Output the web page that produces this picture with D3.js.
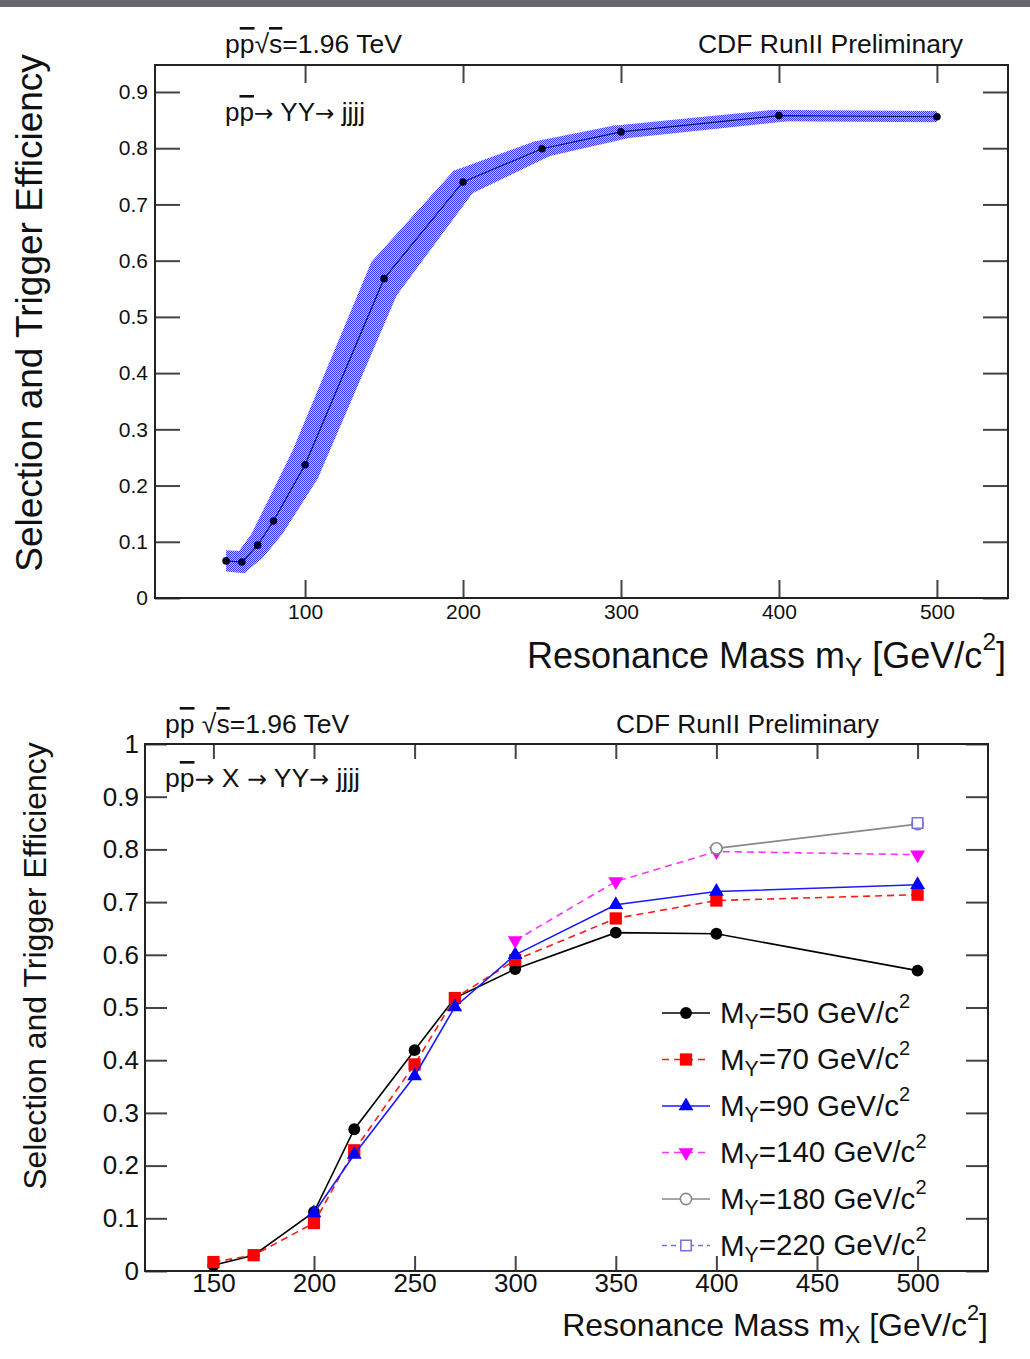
<!DOCTYPE html>
<html>
<head>
<meta charset="utf-8">
<script src="https://cdn.jsdelivr.net/npm/d3@7"></script>
<style>
  body { margin: 0; background: #fff; }
  text { font-family: "Liberation Sans", Arial, sans-serif; fill: #111; }
</style>
</head>
<body>
<div id="chart"></div>
<script>
// dados do painel de cima (pp -> YY -> jjjj)
const massTop = [50, 60, 70, 80, 100, 150, 200, 250, 300, 400, 500];
const effTop = [0.066, 0.064, 0.094, 0.137, 0.237, 0.568, 0.740, 0.799, 0.829, 0.858, 0.856];
const effErrTop = [0.019, 0.019, 0.02, 0.022, 0.025, 0.03, 0.02, 0.013, 0.011, 0.01, 0.01];
const massErrTop = [0, 2, 4, 6, 8, 8, 6, 5, 5, 5, 0];
const xTicksTop = [100, 200, 300, 400, 500];
const yTicksTop = [0, 0.1, 0.2, 0.3, 0.4, 0.5, 0.6, 0.7, 0.8, 0.9];

// dados do painel de baixo (pp -> X -> YY -> jjjj)
const massBot = [150, 170, 200, 220, 250, 270, 300, 350, 400, 500];
const eff50 = [0.011, 0.030, 0.112, 0.269, 0.419, 0.518, 0.573, 0.642, 0.640, 0.570];
const eff70 = [0.017, 0.030, 0.091, 0.229, 0.392, 0.518, 0.590, 0.669, 0.703, 0.714];
const mass90 = [200, 220, 250, 270, 300, 350, 400, 500];
const eff90 = [0.110, 0.221, 0.370, 0.501, 0.600, 0.695, 0.720, 0.733];
const mass140 = [300, 350, 400, 500];
const eff140 = [0.627, 0.739, 0.796, 0.790];
const mass180 = [400, 500];
const eff180 = [0.802, 0.848];
const mass220 = [500];
const eff220 = [0.850];
const legendMasses = ["50", "70", "90", "140", "180", "220"];
const xTicksBot = [150, 200, 250, 300, 350, 400, 450, 500];
const yTicksBot = [0, 0.1, 0.2, 0.3, 0.4, 0.5, 0.6, 0.7, 0.8, 0.9, 1];

const W = 1030, H = 1359;
const svg = d3.select("#chart").append("svg").attr("width", W).attr("height", H);

// padrão pontilhado da banda azul
const defs = svg.append("defs");
const pat = defs.append("pattern").attr("id", "band")
    .attr("width", 2).attr("height", 2).attr("patternUnits", "userSpaceOnUse");
pat.append("rect").attr("width", 2).attr("height", 2).attr("fill", "#c2c2ff");
pat.append("rect").attr("width", 1).attr("height", 1).attr("fill", "#3434ff");
pat.append("rect").attr("x", 1).attr("y", 1).attr("width", 1).attr("height", 1).attr("fill", "#3434ff");

// barra cinza no topo
svg.append("rect").attr("width", W).attr("height", 7).attr("fill", "#68686c");

// texto com sobrescrito / subscrito / barra / setas
function richText(sel, parts) {
    parts.forEach(p => {
        const t = sel.append("tspan").text(p.t);
        if (p.over) t.style("text-decoration", "overline");
        if (p.arrow) t.style("font-family", "'DejaVu Sans', sans-serif").attr("font-size", "0.9em");
        if (p.sub) t.attr("font-size", "0.72em").attr("dy", "0.3em");
        if (p.sup) t.attr("font-size", "0.68em").attr("dy", "-0.72em");
        if (p.back) t.attr("dy", p.back);
    });
    return sel;
}

function axes(g, x, y, xt, yt, o) {
    const [x0, x1] = x.range();
    const [y0, y1] = y.range();
    g.append("g").attr("transform", `translate(${x0},0)`)
        .call(d3.axisLeft(y).tickValues(yt).tickSize(-o.yTick).tickPadding(o.padY).tickFormat(d3.format("~g")));
    g.append("g").attr("transform", `translate(${x1},0)`)
        .call(d3.axisRight(y).tickValues(yt).tickSize(-o.yTick).tickFormat(""));
    g.append("g").attr("transform", `translate(0,${y0})`)
        .call(d3.axisBottom(x).tickValues(xt).tickSize(-o.xTick).tickPadding(o.padX).tickFormat(d3.format("d")));
    g.append("g").attr("transform", `translate(0,${y1})`)
        .call(d3.axisTop(x).tickValues(xt).tickSize(-o.xTick).tickFormat(""));
    g.selectAll(".domain").remove();
    g.selectAll(".tick line").attr("stroke", "#444").attr("stroke-width", 2);
    g.selectAll(".tick text").attr("font-size", o.font).attr("fill", "#111")
        .style("font-family", "'Liberation Sans', Arial, sans-serif");
    g.append("rect").attr("x", x0).attr("y", y1).attr("width", x1 - x0).attr("height", y0 - y1)
        .attr("fill", "none").attr("stroke", "#222").attr("stroke-width", 2);
}

// ---------- painel de cima ----------
const xTop = d3.scaleLinear().domain([5, 545]).range([155, 1008]);
const yTop = d3.scaleLinear().domain([0, 0.948]).range([598, 65]);
const gTop = svg.append("g");

axes(gTop, xTop, yTop, xTicksTop, yTicksTop, { yTick: 25, xTick: 18, padY: 7, padX: 6, font: 21 });

// banda de erro: envoltória das caixas de pontos consecutivos
const topPts = massTop.map((m, i) => ({ m, e: effTop[i], de: effErrTop[i], dm: massErrTop[i] }));
const corners = p => [
    [xTop(p.m - p.dm), yTop(p.e - p.de)], [xTop(p.m + p.dm), yTop(p.e - p.de)],
    [xTop(p.m + p.dm), yTop(p.e + p.de)], [xTop(p.m - p.dm), yTop(p.e + p.de)]
];
d3.pairs(topPts).forEach(([a, b]) => {
    const hull = d3.polygonHull(corners(a).concat(corners(b)));
    gTop.append("path").attr("d", "M" + hull.join("L") + "Z").attr("fill", "url(#band)");
});

gTop.append("path").datum(topPts)
    .attr("fill", "none").attr("stroke", "#15153a").attr("stroke-width", 1.2)
    .attr("d", d3.line().x(d => xTop(d.m)).y(d => yTop(d.e)));
gTop.selectAll(".pt").data(topPts).enter().append("circle")
    .attr("cx", d => xTop(d.m)).attr("cy", d => yTop(d.e)).attr("r", 3.8).attr("fill", "#000022");

richText(gTop.append("text").attr("x", 225).attr("y", 53).attr("font-size", 26.5),
    [{ t: "p" }, { t: "p", over: true }, { t: "√" }, { t: "s", over: true }, { t: "=1.96 TeV" }]);
gTop.append("text").attr("x", 963).attr("y", 53).attr("font-size", 26.5)
    .attr("text-anchor", "end").text("CDF RunII Preliminary");
richText(gTop.append("text").attr("x", 225).attr("y", 121).attr("font-size", 26),
    [{ t: "p" }, { t: "p", over: true }, { t: "→", arrow: true }, { t: " YY" }, { t: "→", arrow: true }, { t: " jjjj" }]);

richText(gTop.append("text").attr("x", 1006).attr("y", 668).attr("font-size", 36).attr("text-anchor", "end"),
    [{ t: "Resonance Mass m" }, { t: "Y", sub: true }, { t: " [GeV/c", back: "-0.22em" }, { t: "2", sup: true }, { t: "]", back: "0.49em" }]);
gTop.append("text").attr("transform", "translate(42,313) rotate(-90)")
    .attr("text-anchor", "middle").attr("font-size", 37).text("Selection and Trigger Efficiency");

// ---------- painel de baixo ----------
const xBot = d3.scaleLinear().domain([116, 535]).range([145, 988]);
const yBot = d3.scaleLinear().domain([0, 1]).range([1271, 744]);
const gBot = svg.append("g");

axes(gBot, xBot, yBot, xTicksBot, yTicksBot, { yTick: 22, xTick: 15, padY: 6, padX: 3, font: 26 });

const series = [
    { label: legendMasses[0], m: massBot, e: eff50, color: "#000", dash: null, sym: d3.symbolCircle, size: 110, fill: "#000" },
    { label: legendMasses[1], m: massBot, e: eff70, color: "#ff1a1a", dash: "7,5", sym: d3.symbolSquare, size: 150, fill: "#ff0000" },
    { label: legendMasses[2], m: mass90, e: eff90, color: "#1a1aff", dash: null, sym: d3.symbolTriangle, size: 95, fill: "#0000ff" },
    { label: legendMasses[3], m: mass140, e: eff140, color: "#ff33ff", dash: "7,5", sym: d3.symbolTriangle, size: 95, fill: "#ff00ff", flip: true },
    { label: legendMasses[4], m: mass180, e: eff180, color: "#888", dash: null, sym: d3.symbolCircle, size: 100, fill: "#fff", open: true },
    { label: legendMasses[5], m: mass220, e: eff220, color: "#7474dc", dash: "5,4", sym: d3.symbolSquare, size: 110, fill: "#fff", open: true }
];

series.forEach(s => {
    const pts = s.m.map((m, i) => [m, s.e[i]]);
    gBot.append("path").datum(pts)
        .attr("fill", "none").attr("stroke", s.color).attr("stroke-width", 1.6)
        .attr("stroke-dasharray", s.dash)
        .attr("d", d3.line().x(d => xBot(d[0])).y(d => yBot(d[1])));
    gBot.selectAll(null).data(pts).enter().append("path")
        .attr("d", d3.symbol().type(s.sym).size(s.size))
        .attr("transform", d => `translate(${xBot(d[0])},${yBot(d[1])})${s.flip ? " rotate(180)" : ""}`)
        .attr("fill", s.fill).attr("stroke", s.open ? s.color : "none").attr("stroke-width", 1.6);
});

// legenda
const leg = gBot.selectAll(".leg").data(series).enter().append("g")
    .attr("transform", (d, i) => `translate(662,${1013 + i * 46.5})`);
leg.append("line").attr("x1", 0).attr("x2", 48)
    .attr("stroke", d => d.color).attr("stroke-width", 1.6).attr("stroke-dasharray", d => d.dash);
leg.append("path").attr("d", d => d3.symbol().type(d.sym).size(d.size)())
    .attr("transform", d => `translate(24,0)${d.flip ? " rotate(180)" : ""}`)
    .attr("fill", d => d.fill).attr("stroke", d => d.open ? d.color : "none").attr("stroke-width", 1.6);
leg.each(function (d) {
    richText(d3.select(this).append("text").attr("x", 58).attr("y", 10).attr("font-size", 29.5),
        [{ t: "M" }, { t: "Y", sub: true }, { t: "=" + d.label + " GeV/c", back: "-0.22em" }, { t: "2", sup: true }]);
});

richText(gBot.append("text").attr("x", 165).attr("y", 733).attr("font-size", 26.5),
    [{ t: "p" }, { t: "p", over: true }, { t: " √" }, { t: "s", over: true }, { t: "=1.96 TeV" }]);
gBot.append("text").attr("x", 879).attr("y", 733).attr("font-size", 26.3)
    .attr("text-anchor", "end").text("CDF RunII Preliminary");
richText(gBot.append("text").attr("x", 165).attr("y", 787).attr("font-size", 26.5),
    [{ t: "p" }, { t: "p", over: true }, { t: "→", arrow: true }, { t: " X " }, { t: "→", arrow: true }, { t: " YY" }, { t: "→", arrow: true }, { t: " jjjj" }]);

richText(gBot.append("text").attr("x", 988).attr("y", 1336).attr("font-size", 32).attr("text-anchor", "end"),
    [{ t: "Resonance Mass m" }, { t: "X", sub: true }, { t: " [GeV/c", back: "-0.22em" }, { t: "2", sup: true }, { t: "]", back: "0.49em" }]);
gBot.append("text").attr("transform", "translate(46,966) rotate(-90)")
    .attr("text-anchor", "middle").attr("font-size", 32).text("Selection and Trigger Efficiency");
</script>
</body>
</html>
